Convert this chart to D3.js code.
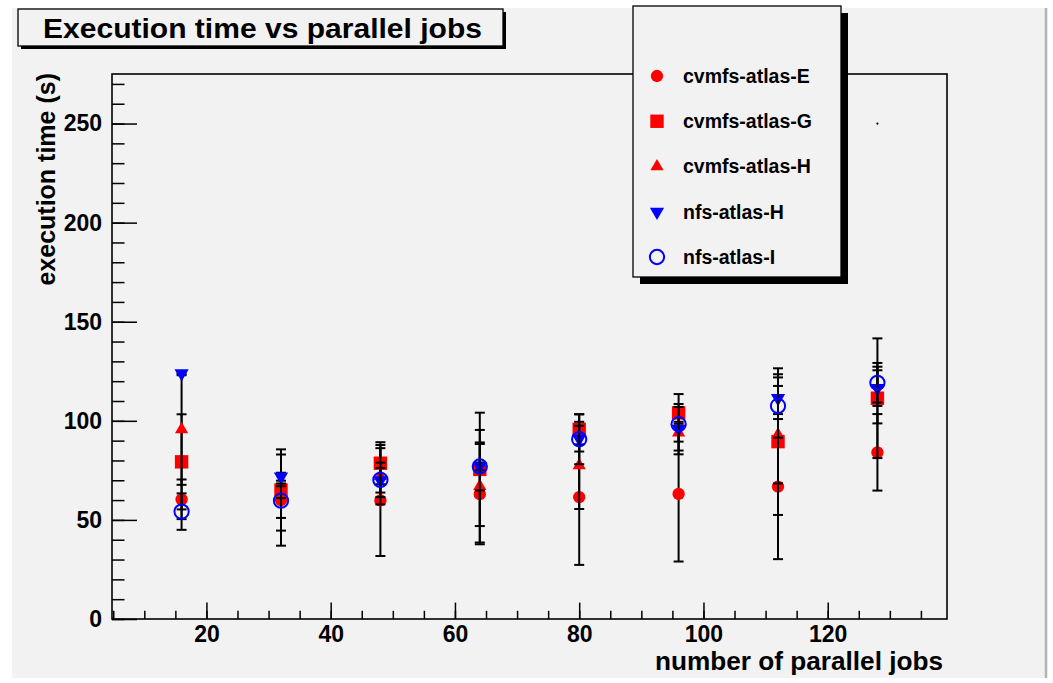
<!DOCTYPE html>
<html>
<head>
<meta charset="utf-8">
<script src="https://cdn.jsdelivr.net/npm/d3@7"></script>
<style>
  body { margin: 0; background: #ffffff; }
  text { font-family: "Liberation Sans", Arial, Helvetica, sans-serif; font-weight: bold; }
</style>
</head>
<body>
<div id="chart"></div>
<script>
// Page and frame dimensions
const width = 1053;
const height = 683;
const frame = {left: 112, right: 947, top: 74, bottom: 619};

// Data
const jobs = [16, 32, 48, 64, 80, 96, 112, 128];
const seriesNames = ["cvmfs-atlas-E", "cvmfs-atlas-G", "cvmfs-atlas-H", "nfs-atlas-H", "nfs-atlas-I"];

const cvmfsE    = [60.4, 60.0, 59.8, 63.0, 61.5, 63.1, 66.8, 84.1];
const cvmfsEErr = [10, 23, 28, 25.3, 34.2, 34.1, 36.6, 19.3];
const cvmfsG    = [79.3, 65.1, 78.6, 75.5, 95.7, 104.0, 89.5, 111.4];
const cvmfsGErr = [24, 20.5, 10.6, 28.6, 7.6, 4.5, 37, 30.2];
const cvmfsH    = [95.7, 64.0, 72.0, 67.0, 77.5, 94.0, 93.0, 113.0];
const cvmfsHErr = [28, 3, 14.2, 28.4, 22, 4.5, 24.6, 14.3];
const nfsH      = [124.0, 71.8, 70.0, 77.0, 91.0, 96.0, 111.4, 116.5];
const nfsHErr   = [1, 2, 6.2, 2, 6.5, 11, 10.5, 9];
const nfsI      = [54.2, 59.7, 70.2, 77.0, 90.7, 98.3, 107.5, 119.2];
const nfsIErr   = [9.2, 8.7, 8.7, 12.1, 12.6, 15.2, 16, 10];

// lone dot in the upper right of the frame
const strayX = [128];
const strayY = [250];

const yMajorTicks = [0, 50, 100, 150, 200, 250];
const xMajorTicks = [20, 40, 60, 80, 100, 120];

// marker styles per series
const markerStyle = [
  {type: d3.symbolCircle, size: 120, color: "#ff0000", open: false, rot: 0},
  {type: d3.symbolSquare, size: 180, color: "#ff0000", open: false, rot: 0},
  {type: d3.symbolTriangle, size: 75, color: "#ff0000", open: false, rot: 0},
  {type: d3.symbolTriangle, size: 88, color: "#0000ff", open: false, rot: 180},
  {type: d3.symbolCircle, size: 160, color: "#0000ff", open: true, rot: 0}
];

const seriesValues = [cvmfsE, cvmfsG, cvmfsH, nfsH, nfsI];
const seriesErrors = [cvmfsEErr, cvmfsGErr, cvmfsHErr, nfsHErr, nfsIErr];

const svg = d3.select("#chart")
  .append("svg")
  .attr("width", width)
  .attr("height", height)
  .attr("viewBox", [0, 0, width, height]);

// canvas background with grey edge on the right
svg.append("rect")
  .attr("x", 12).attr("y", 8)
  .attr("width", 1033).attr("height", 670)
  .attr("fill", "#f2f2f2");
svg.append("line")
  .attr("x1", 1046).attr("x2", 1046)
  .attr("y1", 8).attr("y2", 678)
  .attr("stroke", "#b4b4b4")
  .attr("stroke-width", 2.5);

// scales
let xScale = d3.scaleLinear()
  .domain([4.8, 139.2])
  .range([frame.left, frame.right]);

let yScale = d3.scaleLinear()
  .domain([0, 275])
  .range([frame.bottom, frame.top]);

// minor ticks
svg.append("g")
  .attr("transform", `translate(${frame.left},0)`)
  .call(d3.axisLeft(yScale).tickValues(d3.range(0, 271, 10)).tickSizeInner(-12.5).tickSizeOuter(0).tickFormat(""))
  .call(g => g.select(".domain").remove())
  .selectAll("line").attr("stroke-width", 1.5);

svg.append("g")
  .attr("transform", `translate(0,${frame.bottom})`)
  .call(d3.axisBottom(xScale).tickValues(d3.range(5, 139, 5)).tickSizeInner(-8.2).tickSizeOuter(0).tickFormat(""))
  .call(g => g.select(".domain").remove())
  .selectAll("line").attr("stroke-width", 1.5);

// major ticks and labels
svg.append("g")
  .attr("transform", `translate(${frame.left},0)`)
  .call(d3.axisLeft(yScale).tickValues(yMajorTicks).tickSizeInner(-25).tickSizeOuter(0).tickPadding(10))
  .call(g => g.select(".domain").remove())
  .attr("font-size", "23px")
  .attr("font-family", null)
  .call(g => g.selectAll("line").attr("stroke-width", 1.5))
  .call(g => g.selectAll("text").attr("fill", "#000"));

svg.append("g")
  .attr("transform", `translate(0,${frame.bottom})`)
  .call(d3.axisBottom(xScale).tickValues(xMajorTicks).tickSizeInner(-16.4).tickSizeOuter(0).tickPadding(7))
  .call(g => g.select(".domain").remove())
  .attr("font-size", "23px")
  .attr("font-family", null)
  .call(g => g.selectAll("line").attr("stroke-width", 1.5))
  .call(g => g.selectAll("text").attr("fill", "#000"));

// frame
svg.append("rect")
  .attr("x", frame.left).attr("y", frame.top)
  .attr("width", frame.right - frame.left)
  .attr("height", frame.bottom - frame.top)
  .attr("fill", "none")
  .attr("stroke", "#000")
  .attr("stroke-width", 1.6);

// axis titles
svg.append("text")
  .attr("x", 943).attr("y", 670)
  .attr("text-anchor", "end")
  .attr("font-size", "25px")
  .attr("textLength", 288)
  .attr("lengthAdjust", "spacingAndGlyphs")
  .text("number of parallel jobs");

svg.append("text")
  .attr("transform", `translate(55,${frame.top - 1}) rotate(-90)`)
  .attr("text-anchor", "end")
  .attr("font-size", "25px")
  .text("execution time (s)");

// series: error bars then markers
seriesValues.forEach((vals, s) => {
  const errs = seriesErrors[s];
  const st = markerStyle[s];
  const pts = jobs.map((j, i) => ({x: j, y: vals[i], e: errs[i]}));
  const g = svg.append("g");

  g.selectAll(".bar")
    .data(pts)
    .enter()
    .append("line")
      .attr("x1", d => xScale(d.x)).attr("x2", d => xScale(d.x))
      .attr("y1", d => yScale(d.y - d.e)).attr("y2", d => yScale(d.y + d.e))
      .attr("stroke", "#000").attr("stroke-width", 2);

  [-1, 1].forEach(sign => {
    g.selectAll(".cap" + sign)
      .data(pts)
      .enter()
      .append("line")
        .attr("x1", d => xScale(d.x) - 5).attr("x2", d => xScale(d.x) + 5)
        .attr("y1", d => yScale(d.y + sign * d.e)).attr("y2", d => yScale(d.y + sign * d.e))
        .attr("stroke", "#000").attr("stroke-width", 2);
  });

  g.selectAll("path")
    .data(pts)
    .enter()
    .append("path")
      .attr("d", d3.symbol().type(st.type).size(st.size))
      .attr("transform", d => `translate(${xScale(d.x)},${yScale(d.y)}) rotate(${st.rot})`)
      .attr("fill", st.open ? "none" : st.color)
      .attr("stroke", st.open ? st.color : "none")
      .attr("stroke-width", 2);
});

// stray dot
svg.selectAll(".stray")
  .data(strayX)
  .enter()
  .append("circle")
    .attr("cx", d => xScale(d))
    .attr("cy", (d, i) => yScale(strayY[i]))
    .attr("r", 1.1)
    .attr("fill", "#000");

// title box
svg.append("rect")
  .attr("x", 21).attr("y", 12).attr("width", 485).attr("height", 37)
  .attr("fill", "#000");
svg.append("rect")
  .attr("x", 18).attr("y", 9).attr("width", 485).attr("height", 37)
  .attr("fill", "#f2f2f2").attr("stroke", "#000").attr("stroke-width", 1.3);
svg.append("text")
  .attr("x", 43).attr("y", 38)
  .attr("font-size", "28px")
  .attr("textLength", 439)
  .attr("lengthAdjust", "spacingAndGlyphs")
  .text("Execution time vs parallel jobs");

// legend box
svg.append("rect")
  .attr("x", 640).attr("y", 13).attr("width", 208).attr("height", 271)
  .attr("fill", "#000");
svg.append("rect")
  .attr("x", 633).attr("y", 6).attr("width", 208).attr("height", 271)
  .attr("fill", "#f2f2f2").attr("stroke", "#000").attr("stroke-width", 1.3);

let legendY = d3.scalePoint()
  .domain(seriesNames)
  .range([76, 257]);

const legend = svg.selectAll(".legend")
  .data(seriesNames)
  .enter()
  .append("g")
    .attr("transform", d => `translate(657,${legendY(d)})`);

legend.append("path")
  .attr("d", (d, i) => d3.symbol().type(markerStyle[i].type).size(markerStyle[i].size)())
  .attr("transform", (d, i) => `rotate(${markerStyle[i].rot})`)
  .attr("fill", (d, i) => markerStyle[i].open ? "none" : markerStyle[i].color)
  .attr("stroke", (d, i) => markerStyle[i].open ? markerStyle[i].color : "none")
  .attr("stroke-width", 2);

legend.append("text")
  .attr("x", 26)
  .attr("dy", "0.35em")
  .attr("font-size", "19.5px")
  .text(d => d);
</script>
</body>
</html>
